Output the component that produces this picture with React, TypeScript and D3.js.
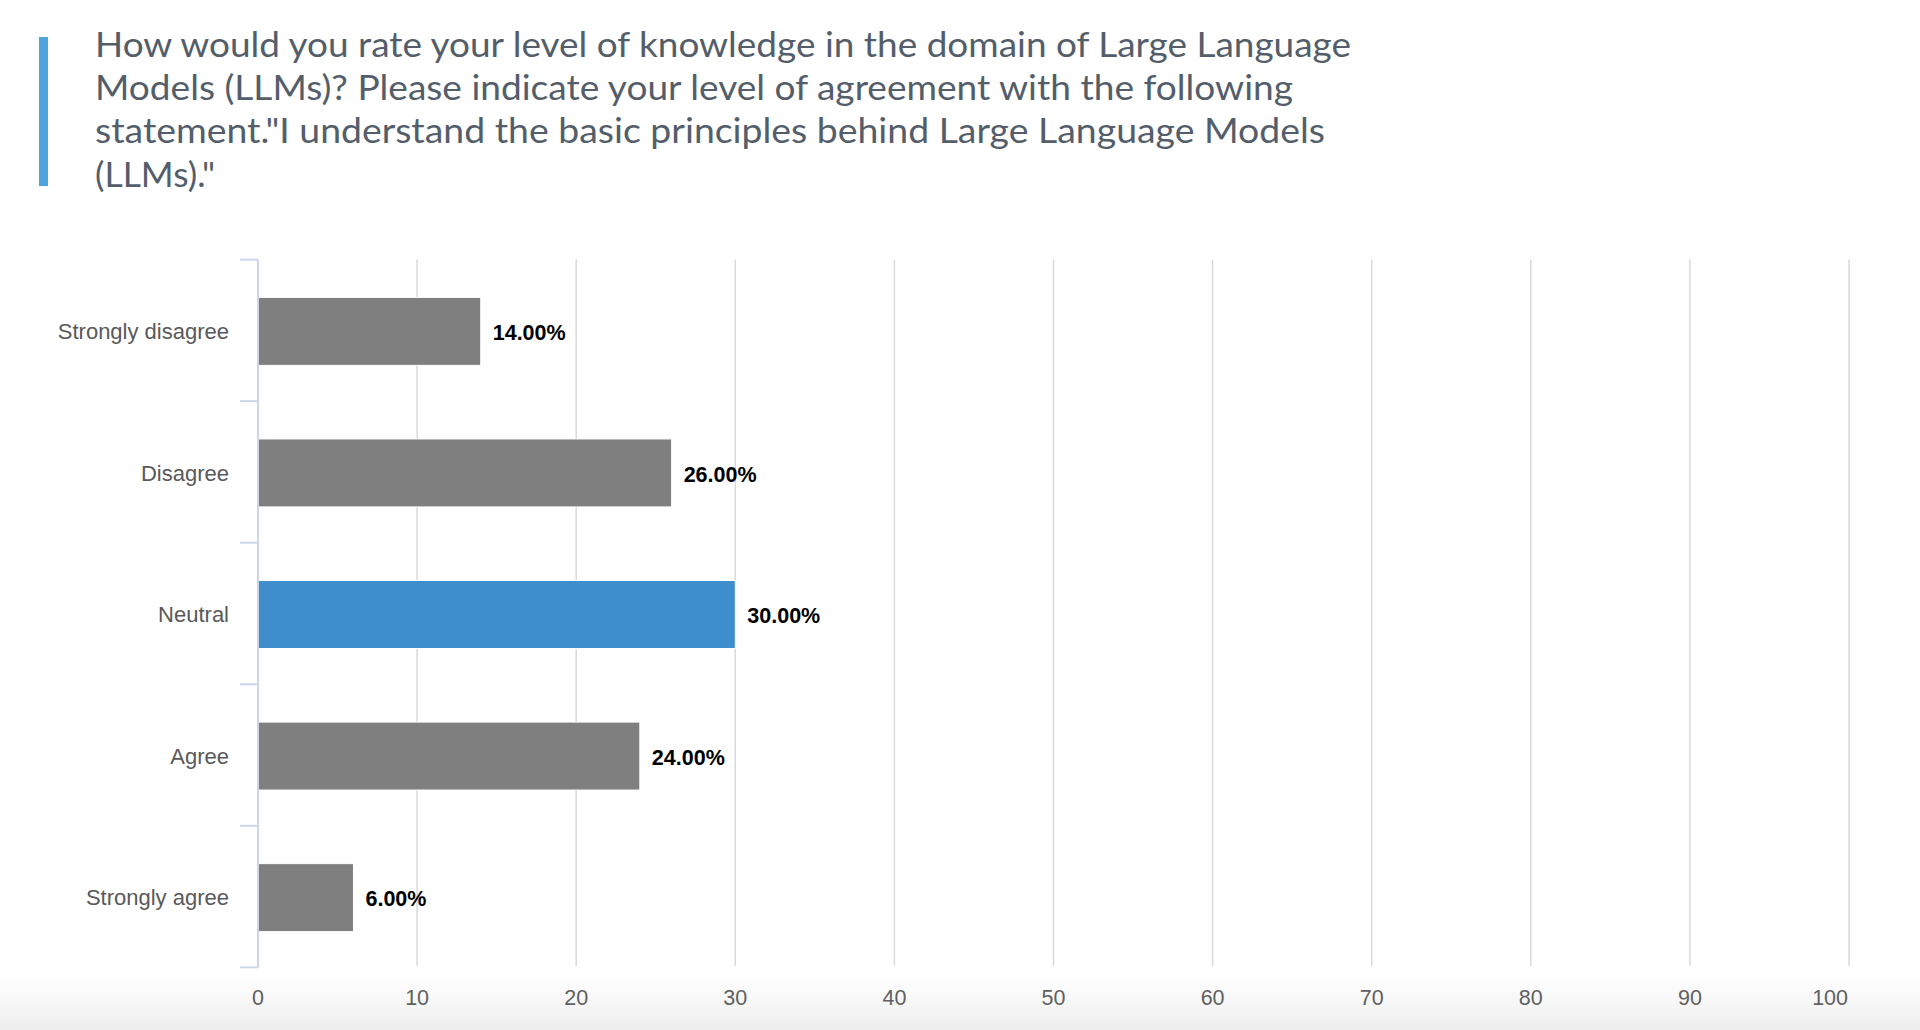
import React from "react";
import * as d3 from "d3";

const categories = ["Strongly disagree", "Disagree", "Neutral", "Agree", "Strongly agree"];
const values = [14, 26, 30, 24, 6];
const highlighted = ["Neutral"];
const xTicks = [0, 10, 20, 30, 40, 50, 60, 70, 80, 90, 100];
const titleLines = [
  "How would you rate your level of knowledge in the domain of Large Language",
  "Models (LLMs)? Please indicate your level of agreement with the following",
  "statement.\"I understand the basic principles behind Large Language Models",
  "(LLMs).\"",
];
const titleWidths = [1256, 1198, 1230, 120];

const W = 1920;
const H = 1030;

export default function App() {
  const x = d3.scaleLinear().domain([0, 100]).range([258, 1849]);
  const y = d3
    .scaleBand<string>()
    .domain(categories)
    .range([259.6, 967.4])
    .paddingInner(0.52)
    .paddingOuter(0.26);
  const step = y.step();
  const [y0, y1] = y.range();
  const boundaries = d3.range(categories.length + 1).map((i) => y0 + i * step);
  const fmt = (v: number) => `${v.toFixed(2)}%`;

  return (
    <svg
      width={W}
      height={H}
      viewBox={`0 0 ${W} ${H}`}
      style={{ position: "absolute", left: 0, top: 0, display: "block" }}
    >
      <defs>
        <linearGradient id="bottomFade" x1="0" y1="0" x2="0" y2="1">
          <stop offset="0" stopColor="#ffffff" />
          <stop offset="1" stopColor="#eeeeee" />
        </linearGradient>
      </defs>
      <rect x={0} y={0} width={W} height={H} fill="#ffffff" />
      <rect x={0} y={975} width={W} height={H - 975} fill="url(#bottomFade)" />

      {/* title */}
      <rect x={39} y={37} width={9} height={149} fill="#4ea3dc" />
      {titleLines.map((line, i) => (
        <text
          key={i}
          x={95}
          y={57 + i * 43.2}
          fontFamily="Lato, 'Open Sans', 'Noto Sans', sans-serif"
          fontSize={34}
          fill="#545e6b"
          textLength={titleWidths[i]}
          lengthAdjust="spacingAndGlyphs"
        >
          {line}
        </text>
      ))}

      {/* gridlines */}
      {xTicks
        .filter((t) => t !== 0)
        .map((t) => (
          <line
            key={t}
            x1={x(t)}
            x2={x(t)}
            y1={y0}
            y2={y1 - 1.5}
            stroke="#d9d9d9"
            strokeWidth={1.5}
          />
        ))}

      {/* bars */}
      {categories.map((c, i) => (
        <rect
          key={c}
          x={x(0)}
          y={(y(c) as number) + 1}
          width={x(values[i]) - x(0)}
          height={y.bandwidth()}
          fill={highlighted.includes(c) ? "#3e8dcc" : "#7f7f7f"}
          stroke="#ffffff"
          strokeWidth={1}
        />
      ))}

      {/* y axis */}
      <line x1={x(0)} x2={x(0)} y1={y0} y2={y1} stroke="#ccd6eb" strokeWidth={2} />
      {boundaries.map((b, i) => (
        <line key={i} x1={x(0) - 18} x2={x(0)} y1={b} y2={b} stroke="#ccd6eb" strokeWidth={2} />
      ))}

      {/* category labels */}
      {categories.map((c) => (
        <text
          key={c}
          x={229}
          y={(y(c) as number) + y.bandwidth() / 2 + 1}
          dy="0.35em"
          textAnchor="end"
          fontFamily="'Liberation Sans', Arial, Helvetica, sans-serif"
          fontSize={22}
          fill="#595959"
        >
          {c}
        </text>
      ))}

      {/* value labels */}
      {categories.map((c, i) => (
        <text
          key={c}
          x={x(values[i]) + 12}
          y={(y(c) as number) + y.bandwidth() / 2 + 2}
          dy="0.36em"
          fontFamily="'Liberation Sans', Arial, Helvetica, sans-serif"
          fontSize={21.5}
          fontWeight="bold"
          fill="#000000"
        >
          {fmt(values[i])}
        </text>
      ))}

      {/* x tick labels */}
      {xTicks.map((t, i) => (
        <text
          key={t}
          x={i === xTicks.length - 1 ? x(t) - 1 : x(t)}
          y={997}
          dy="0.35em"
          textAnchor={i === xTicks.length - 1 ? "end" : "middle"}
          fontFamily="'Liberation Sans', Arial, Helvetica, sans-serif"
          fontSize={21.5}
          fill="#606060"
        >
          {t}
        </text>
      ))}
    </svg>
  );
}
